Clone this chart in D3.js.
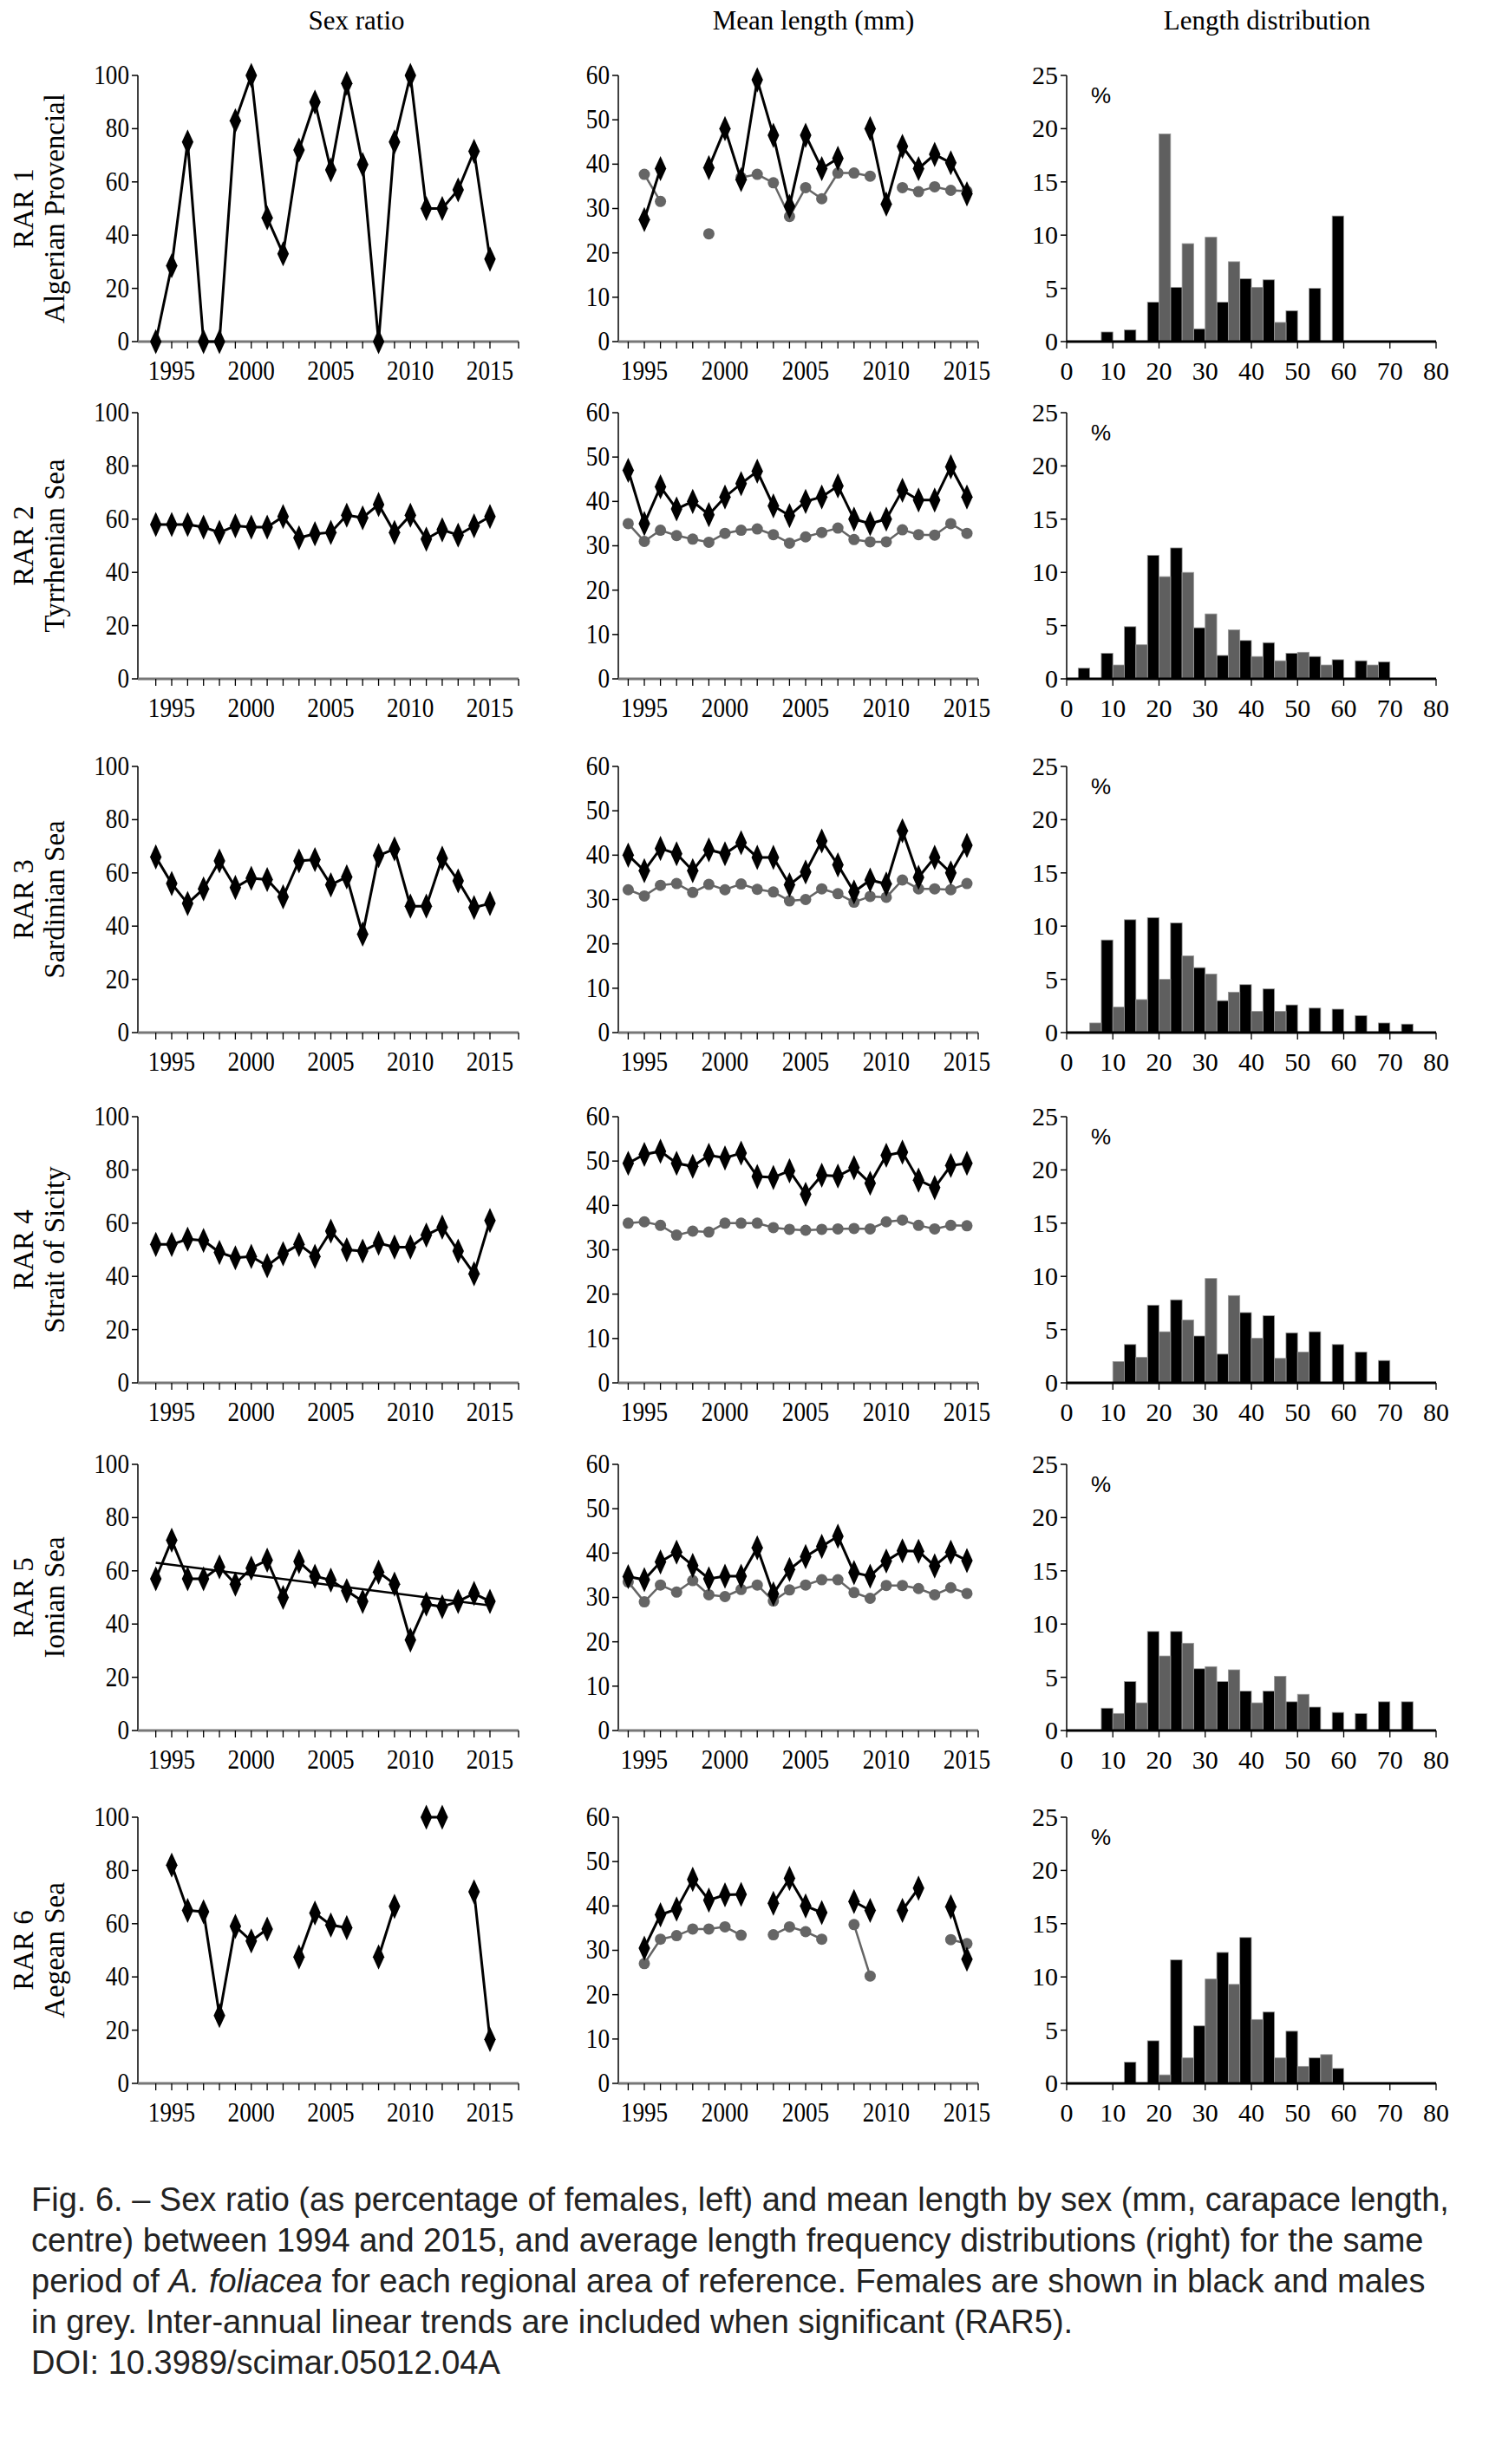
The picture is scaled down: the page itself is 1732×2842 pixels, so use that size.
<!DOCTYPE html>
<html><head><meta charset="utf-8">
<script src="https://cdn.jsdelivr.net/npm/d3@7"></script>
<style>body{margin:0;background:#fff}</style>
</head><body>
<svg id="c" width="1732" height="2842"></svg>
<script>
const years = d3.range(1994, 2016);
const rowNames = [["RAR 1","Algerian Provencial"],["RAR 2","Tyrrhenian Sea"],["RAR 3","Sardinian Sea"],["RAR 4","Strait of Sicity"],["RAR 5","Ionian Sea"],["RAR 6","Aegean Sea"]];
const colTitles = ["Sex ratio","Mean length (mm)","Length distribution"];
const N = null;
const sexRatio = [
 [0,28.5,75,0,0,83,100,46.5,33,72,90,64.5,97,66.5,0,75,100,50,50,57,71.5,31],
 [58,58,58,57,55,57.5,57,57,61,53,54.5,55,61.5,60.5,65.5,55,61.5,52.5,56,54,57.5,61],
 [66,56,48.5,54,64.5,54.5,58,57.5,51,64.5,65,55.5,58.5,37,66.5,69,47.5,47.5,65.5,57,47,48.5],
 [52,52,54,53.5,49,47,47.5,44,48.5,52,47.5,57,50,49.5,52.5,51,51,55.5,58.5,49.5,41,61],
 [57,71.5,57,57,61.5,55,61,64,50,63.5,58,56.5,52.5,48.5,59.5,55,34,47.5,46.5,48.5,51.5,48.5],
 [N,82,65,64.5,25.5,59,53.5,58,N,47.5,64,59.5,58.5,N,47.5,66.5,N,100,100,N,72,16.5]
];
const trendRAR5 = [[1994,63],[2015,47]];
const lenF = [
 [N,27.5,39,N,N,39.2,48,36.5,59,46.5,30.5,46.5,39,41.3,N,48,31,44,39,42.2,40.3,33.3],
 [47,35,43.3,38.3,40,37,41,44,46.8,39,36.8,40,41,43.5,36,35,36,42.5,40.3,40.3,47.8,41],
 [40,36.5,41.5,40.3,36.5,41.2,40.3,42.8,39.5,39.5,33.3,36.2,43.2,37.8,31.7,34.4,33.5,45.5,35,39.5,36,42.2],
 [49.5,51.5,52.2,49.5,48.8,51.3,50.7,51.8,46.5,46.3,47.8,42.5,46.8,46.6,48.5,45,51.3,52,45.7,44,49,49.5],
 [34.7,34,38,40.2,37.2,34.2,34.8,34.8,41.2,30.8,36.3,39.2,41.5,43.8,35.6,34.8,38.2,40.5,40.4,37.1,40.2,38.3],
 [N,30.5,38,39.3,46,41.3,42.5,42.6,N,40.6,46.2,40,38.5,N,41,39,N,39,44,N,39.8,28]
];
const lenM = [
 [N,37.7,31.6,N,N,24.3,N,37,37.7,35.8,28.2,34.7,32.2,38,38,37.3,N,34.7,33.8,34.9,34.1,33.9],
 [35,31,33.5,32.3,31.5,30.8,32.8,33.5,33.8,32.5,30.6,32,33,34,31.4,30.9,30.9,33.6,32.5,32.4,35,32.8],
 [32.2,30.8,33.2,33.6,31.6,33.4,32.2,33.5,32.3,31.7,29.7,30,32.4,31.3,29.4,30.7,30.5,34.4,32.4,32.4,32.2,33.6],
 [36,36.3,35.5,33.3,34.2,34,36,36,36,35,34.6,34.4,34.6,34.7,34.8,34.7,36.3,36.7,35.5,34.7,35.5,35.4],
 [33.5,29,32.8,31.2,33.8,30.6,30.2,31.8,32.8,29.2,31.7,32.8,34,34,31.1,29.8,32.7,32.7,32,30.6,32.2,30.9],
 [N,27,32.5,33.3,34.8,34.8,35.3,33.4,N,33.5,35.3,34.2,32.5,N,35.8,24.2,N,N,N,N,32.4,31.5]
];
const lenClasses = [5,10,15,20,25,30,35,40,45,50,55,60,65,70,75];
const histF = [
 [0,0.9,1.1,3.7,5.1,1.2,3.7,5.9,5.8,2.9,5.0,11.8,0,0,0],
 [1.0,2.4,4.9,11.6,12.3,4.8,2.2,3.6,3.4,2.4,2.1,1.8,1.7,1.6,0],
 [0,8.7,10.6,10.8,10.3,6.1,3.0,4.5,4.1,2.6,2.3,2.2,1.6,0.9,0.8],
 [0,0,3.6,7.3,7.8,4.4,2.7,6.6,6.3,4.7,4.8,3.6,2.9,2.1,0],
 [0,2.1,4.6,9.3,9.3,5.8,4.6,3.7,3.7,2.7,2.2,1.7,1.6,2.7,2.7],
 [0,0,2.0,4.0,11.6,5.4,12.3,13.7,6.7,4.9,2.4,1.4,0,0,0]
];
const histM = [
 [0,0,0,19.5,9.2,9.8,7.5,5.1,1.8,0,0,0,0,0,0],
 [0,1.3,3.2,9.6,10.0,6.1,4.6,2.1,1.7,2.5,1.3,0,1.3,0,0],
 [0.9,2.4,3.1,5.0,7.2,5.5,3.8,2.0,2.0,0,0,0,0,0,0],
 [0,2.0,2.4,4.8,5.9,9.8,8.2,4.2,2.3,2.9,0,0,0,0,0],
 [0,1.6,2.6,7.0,8.2,6.0,5.7,2.6,5.1,3.4,0,0,0,0,0],
 [0,0,0,0.8,2.4,9.8,9.3,6.0,2.4,1.6,2.7,0,0,0,0]
];
const yearTicks = [1995,2000,2005,2010,2015];
const sexTicks = [0,20,40,60,80,100];
const lenTicks = [0,10,20,30,40,50,60];
const pctTicks = [0,5,10,15,20,25];
const lenAxisTicks = [0,10,20,30,40,50,60,70,80];
const caption = [
 "Fig. 6. – Sex ratio (as percentage of females, left) and mean length by sex (mm, carapace length,",
 "centre) between 1994 and 2015, and average length frequency distributions (right) for the same",
 "period of |A. foliacea| for each regional area of reference. Females are shown in black and males",
 "in grey. Inter-annual linear trends are included when significant (RAR5).",
 "DOI: 10.3989/scimar.05012.04A"
];

const svg = d3.select("#c");
const serif = "'Liberation Serif','DejaVu Serif',serif";
const GREY = "#656565";
const rowTops = [87,476,884,1288,1689,2096];
const H = 307;
const cols = [{x0:159,x1:598},{x0:713,x1:1128},{x0:1230,x1:1656}];
const colCenters = [411,938,1461];
const FS = 30;

colTitles.forEach((t,i)=>svg.append("text").attr("x",colCenters[i]).attr("y",34)
  .attr("text-anchor","middle").attr("font-family",serif).attr("font-size",31).text(t));

function sq(x){ return `translate(${x},0) scale(0.85,1) translate(${-x},0)`; }
function yAxis(g, y, ticks, x0, squeeze){
  g.append("line").attr("x1",x0).attr("x2",x0).attr("y1",y.range()[1]).attr("y2",y.range()[0]).attr("stroke","#000").attr("stroke-width",1.5);
  ticks.forEach(t=>{
    g.append("line").attr("x1",x0-7).attr("x2",x0).attr("y1",y(t)).attr("y2",y(t)).attr("stroke","#000").attr("stroke-width",1.5);
    const tx = g.append("text").attr("x",x0-10).attr("y",y(t)+10).attr("text-anchor","end")
      .attr("font-family",serif).attr("font-size",squeeze?FS+2:FS).text(t);
    if(squeeze) tx.attr("transform",sq(x0-10));
  });
}
function yearAxis(g, x, y0, x0, x1){
  g.append("line").attr("x1",x0).attr("x2",x1).attr("y1",y0).attr("y2",y0).attr("stroke","#777").attr("stroke-width",3);
  years.forEach(yr=>g.append("line").attr("x1",x(yr)).attr("x2",x(yr)).attr("y1",y0).attr("y2",y0+8).attr("stroke","#000").attr("stroke-width",1.3));
  g.append("line").attr("x1",x1).attr("x2",x1).attr("y1",y0).attr("y2",y0+8).attr("stroke","#000").attr("stroke-width",1.3);
  yearTicks.forEach(t=>g.append("text").attr("x",x(t)).attr("y",y0+44).attr("text-anchor","middle")
    .attr("font-family",serif).attr("font-size",FS+2).attr("transform",sq(x(t))).text(t));
}
const diamond = d3.symbol().type(d3.symbolDiamond).size(170);

rowTops.forEach((top,r)=>{
  const bottom = top+H;
  const cy = top+H/2;
  svg.append("text").attr("transform",`translate(38,${cy}) rotate(-90)`).attr("text-anchor","middle")
    .attr("font-family",serif).attr("font-size",33).text(rowNames[r][0]);
  svg.append("text").attr("transform",`translate(74,${cy}) rotate(-90)`).attr("text-anchor","middle")
    .attr("font-family",serif).attr("font-size",33).text(rowNames[r][1]);

  const g1 = svg.append("g");
  const x1 = d3.scaleLinear().domain([1995,2015]).range([198,565]);
  const y1 = d3.scaleLinear().domain([0,100]).range([bottom,top]);
  yAxis(g1,y1,sexTicks,cols[0].x0,true);
  yearAxis(g1,x1,bottom,cols[0].x0,cols[0].x1);
  const ds = years.map((yr,i)=>({yr,v:sexRatio[r][i]}));
  const line1 = d3.line().defined(d=>d.v!=null).x(d=>x1(d.yr)).y(d=>y1(d.v));
  g1.append("path").attr("d",line1(ds)).attr("fill","none").attr("stroke","#000").attr("stroke-width",3);
  if(r===4){
    g1.append("path").attr("d",d3.line().x(d=>x1(d[0])).y(d=>y1(d[1]))(trendRAR5)).attr("stroke","#000").attr("stroke-width",2.5).attr("fill","none");
  }
  g1.selectAll(null).data(ds.filter(d=>d.v!=null)).join("path").attr("d",diamond)
    .attr("transform",d=>`translate(${x1(d.yr)},${y1(d.v)}) scale(0.95,1.2)`).attr("fill","#000");

  const g2 = svg.append("g");
  const x2 = d3.scaleLinear().domain([1995,2015]).range([743,1115]);
  const y2 = d3.scaleLinear().domain([0,60]).range([bottom,top]);
  yAxis(g2,y2,lenTicks,cols[1].x0,true);
  yearAxis(g2,x2,bottom,cols[1].x0,cols[1].x1);
  const dm = years.map((yr,i)=>({yr,v:lenM[r][i]}));
  const df = years.map((yr,i)=>({yr,v:lenF[r][i]}));
  const line2 = d3.line().defined(d=>d.v!=null).x(d=>x2(d.yr)).y(d=>y2(d.v));
  g2.append("path").attr("d",line2(dm)).attr("fill","none").attr("stroke",GREY).attr("stroke-width",2.5);
  g2.selectAll(null).data(dm.filter(d=>d.v!=null)).join("circle").attr("cx",d=>x2(d.yr)).attr("cy",d=>y2(d.v)).attr("r",6.5).attr("fill",GREY);
  g2.append("path").attr("d",line2(df)).attr("fill","none").attr("stroke","#000").attr("stroke-width",3);
  g2.selectAll(null).data(df.filter(d=>d.v!=null)).join("path").attr("d",diamond)
    .attr("transform",d=>`translate(${x2(d.yr)},${y2(d.v)}) scale(0.95,1.2)`).attr("fill","#000");

  const g3 = svg.append("g");
  const x3 = d3.scaleLinear().domain([0,80]).range([cols[2].x0,cols[2].x1]);
  const y3 = d3.scaleLinear().domain([0,25]).range([bottom,top]);
  yAxis(g3,y3,pctTicks,cols[2].x0,false);
  const bars = lenClasses.map((c,i)=>({c,f:histF[r][i],m:histM[r][i]}));
  g3.selectAll(null).data(bars.filter(d=>d.f>0)).join("rect")
    .attr("x",d=>x3(d.c-2.5)).attr("width",d=>x3(d.c)-x3(d.c-2.5)).attr("y",d=>y3(d.f)).attr("height",d=>y3(0)-y3(d.f))
    .attr("fill","#000").attr("stroke","#999").attr("stroke-width",0.8);
  g3.selectAll(null).data(bars.filter(d=>d.m>0)).join("rect")
    .attr("x",d=>x3(d.c)).attr("width",d=>x3(d.c+2.5)-x3(d.c)).attr("y",d=>y3(d.m)).attr("height",d=>y3(0)-y3(d.m))
    .attr("fill","#5f5f5f").attr("stroke","#999").attr("stroke-width",0.8);
  g3.append("line").attr("x1",x3(0)).attr("x2",x3(80)).attr("y1",bottom).attr("y2",bottom).attr("stroke","#000").attr("stroke-width",3);
  lenAxisTicks.forEach(t=>{
    g3.append("line").attr("x1",x3(t)).attr("x2",x3(t)).attr("y1",bottom).attr("y2",bottom+8).attr("stroke","#000").attr("stroke-width",1.3);
    g3.append("text").attr("x",x3(t)).attr("y",bottom+44).attr("text-anchor","middle").attr("font-family",serif).attr("font-size",FS).text(t);
  });
  g3.append("text").attr("x",x3(0)+28).attr("y",top+32).attr("font-family","'Liberation Sans',Arial,sans-serif").attr("font-size",26).text("%");
});

caption.forEach((ln,i)=>{
  const t = svg.append("text").attr("x",36).attr("y",2550+i*47).attr("font-family","'Liberation Sans',Arial,sans-serif").attr("font-size",38).attr("fill","#222");
  ln.split("|").forEach((part,j)=>t.append("tspan").attr("font-style",j%2? "italic":"normal").text(part));
});
</script>
</body></html>
